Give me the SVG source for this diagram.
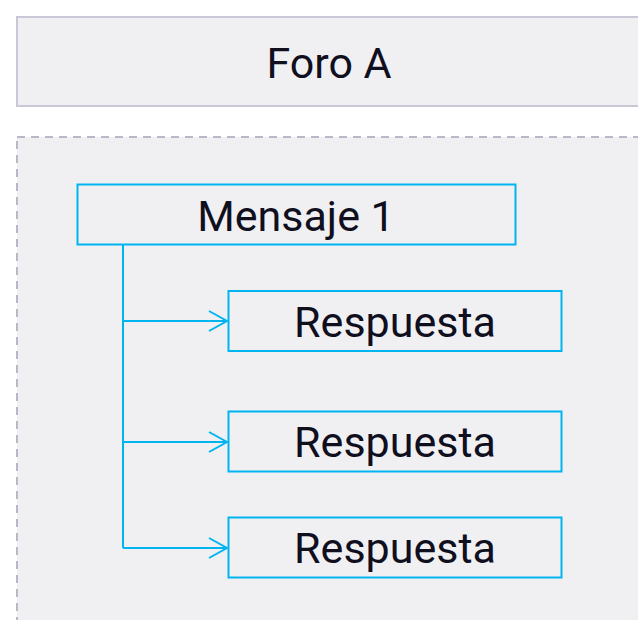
<svg xmlns="http://www.w3.org/2000/svg" width="638" height="620" viewBox="0 0 638 620">
<defs>
<style>
.hdr{fill:#f0f0f3;stroke:#c8c8d6;stroke-width:2;}
.cont{fill:#f0f0f3;stroke:#b8b8c8;stroke-width:2;stroke-dasharray:8 6;}
.node{fill:#f0f0f3;stroke:#00b4f0;stroke-width:2;}
.lbl{font-family:Roboto,"Liberation Sans",sans-serif;font-size:43px;fill:#0f0f1e;text-anchor:middle;dominant-baseline:central;}
.conn{fill:none;stroke:#00b4f0;stroke-width:2;}
</style>
<marker id="arr" markerWidth="22" markerHeight="24" refX="19" refY="12" orient="auto" markerUnits="userSpaceOnUse">
<path d="M1,2 L19,12 L1,22" fill="none" stroke="#00b4f0" stroke-width="2"/>
</marker>
</defs>
<rect width="638" height="620" fill="#ffffff"/>
<g id="foro-a">
<rect class="hdr" x="17" y="17" width="630" height="89"/>
<text class="lbl" x="329" y="63">Foro A</text>
</g>
<g id="contenedor">
<rect class="cont" x="17" y="137" width="640" height="500"/>
</g>
<g id="mensaje-1">
<rect class="node" x="77.5" y="184.5" width="438" height="60"/>
<text class="lbl" x="296" y="216">Mensaje 1</text>
</g>
<g id="respuesta-1">
<rect class="node" x="228.5" y="291" width="333" height="60"/>
<text class="lbl" x="395" y="322">Respuesta</text>
</g>
<g id="respuesta-2">
<rect class="node" x="228.5" y="411.5" width="333" height="60"/>
<text class="lbl" x="395" y="442">Respuesta</text>
</g>
<g id="respuesta-3">
<rect class="node" x="228.5" y="517.5" width="333" height="60"/>
<text class="lbl" x="395" y="548">Respuesta</text>
</g>
<g id="connectors">
<path class="conn" d="M123,245 V548"/>
<path class="conn" d="M123,321 H227" marker-end="url(#arr)"/>
<path class="conn" d="M123,442 H227" marker-end="url(#arr)"/>
<path class="conn" d="M123,548 H227" marker-end="url(#arr)"/>
</g>
</svg>
